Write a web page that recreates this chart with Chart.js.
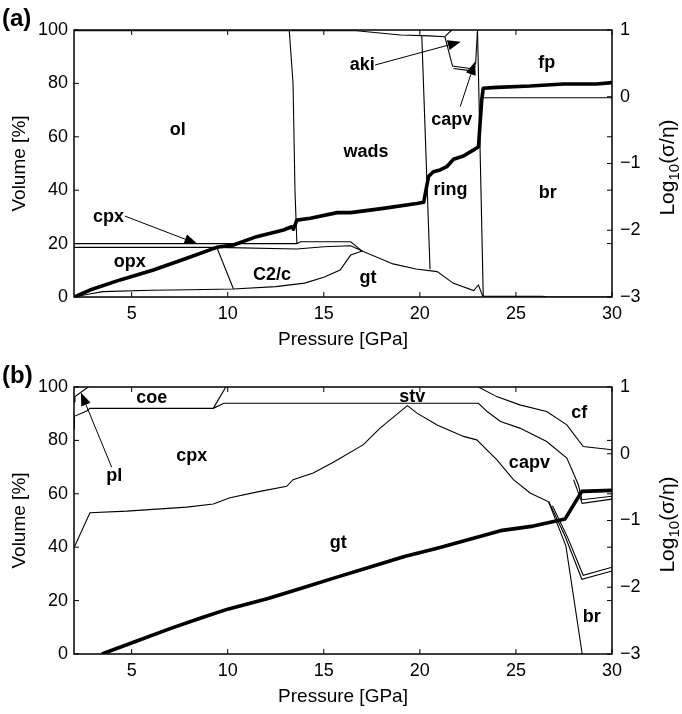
<!DOCTYPE html>
<html>
<head>
<meta charset="utf-8">
<script src="https://cdn.jsdelivr.net/npm/chart.js@4.4.0/dist/chart.umd.min.js"></script>
<style>
html, body { margin: 0; padding: 0; background: #fff; }
.panel { position: absolute; left: 0; width: 682px; height: 357px; }
</style>
</head>
<body>
<div class="panel" style="top:0"><canvas id="chartA" width="682" height="357"></canvas></div>
<div class="panel" style="top:357px"><canvas id="chartB" width="682" height="357"></canvas></div>
<script>
// axes
const xTicks = [5, 10, 15, 20, 25, 30];
const volTicks = [0, 20, 40, 60, 80, 100];
// right axis: integer labels plus marks where the left ticks fall
const logTicks = [-3, -2.2, -2, -1.4, -1, -0.6, 0, 0.2, 1];

// ---- panel (a): phase boundaries, Volume [%] vs Pressure [GPa]
const aGtP = [2, 2.8, 3.5, 6, 8, 10.3, 12.5, 14, 15, 15.85, 16.4, 17, 18.6, 19.8, 20.9, 21.75, 22.8, 23.05, 23.27, 26.4, 26.6, 30];
const aGtV = [0, 1.1, 2.0, 2.5, 2.7, 3.0, 3.9, 5.2, 7.4, 10.1, 15.7, 17.2, 12.4, 10.5, 9.5, 5.1, 2.4, 4.5, 0.3, 0.3, 0, 0];
const aOpxP = [2, 9.43, 10.3];
const aOpxV = [18.6, 18.6, 3.0];
const aC2cP = [9.43, 13.6, 15, 16.4, 17];
const aC2cV = [18.6, 18.0, 18.8, 19.2, 17.2];
const aCpxP = [2, 13.6, 13.8, 16.4, 17];
const aCpxV = [20.0, 20.0, 20.7, 20.7, 17.2];
const aOlP = [13.2, 13.4, 13.5, 13.6];
const aOlV = [100, 80, 40, 20.0];
const aRingP = [20.1, 20.53];
const aRingV = [97.8, 10.4];
const aBrP = [23.0, 23.3];
const aBrV = [100, 0.3];
const aTopP = [2, 16.7, 19, 20.5, 21.3];
const aTopV = [99.7, 99.7, 98.1, 97.8, 97.5];
const aAkiP = [21.66, 21.3, 21.7, 22.6, 22.9, 23.0];
const aAkiV = [100, 97.5, 86.5, 85.6, 87.3, 100];
const aCapvP = [21.75, 22.6, 22.9];
const aCapvV = [85.6, 84.8, 86.5];
const aFpP = [23.3, 30];
const aFpV = [74.6, 74.6];
// log10(sigma/eta), right axis
const aCondP = [2.05, 2.83, 4.4, 6.13, 7.87, 9.43, 10.3, 11.5, 12.9, 13.33, 13.42, 13.6, 14.3, 15.7, 16.4, 18.1, 19.84, 20.2, 20.45, 20.7, 21.05, 21.4, 21.75, 22.27, 22.8, 23.05, 23.22, 23.3, 24.0, 25.74, 27.47, 29.2, 30];
const aCondL = [-2.996, -2.896, -2.744, -2.596, -2.42, -2.256, -2.22, -2.096, -1.996, -1.948, -1.984, -1.848, -1.82, -1.736, -1.736, -1.672, -1.6, -1.58, -1.196, -1.124, -1.096, -1.048, -0.936, -0.888, -0.796, -0.748, -0.048, 0.128, 0.14, 0.16, 0.192, 0.192, 0.212];

const aLabels = [
  ["ol", 7.4, 62.5], ["wads", 17.2, 54.4], ["ring", 21.6, 40], ["br", 26.65, 38.8],
  ["fp", 26.6, 87.5], ["capv", 21.66, 66.3], ["aki", 17.0, 86.9], ["gt", 17.3, 7.0],
  ["cpx", 3.8, 30], ["opx", 4.9, 13.2], ["C2/c", 12.3, 8.2]
];
const aArrows = [
  [4.65, 30.3, 8.42, 19.9], [17.67, 86.9, 22.13, 95.6], [22.1, 71.3, 22.87, 88.1]
];

// ---- panel (b)
const bPlP = [2, 2.05, 2.74];
const bPlV = [94.5, 96.4, 100];
const bCpxTopP = [2, 2.02, 2.66, 2.83, 9.25, 9.8, 23.05, 23.5, 24.2, 25.2, 26.6, 27.65, 28.25, 28.43, 30];
const bCpxTopV = [84.5, 89, 91, 92, 92, 93.9, 93.9, 90.8, 87.1, 84.6, 79.6, 73.4, 63.4, 57.8, 59.1];
const bCapv2P = [28.0, 28.45, 30];
const bCapv2V = [65.3, 56.4, 58.0];
const bCoeP = [9.25, 9.9];
const bCoeV = [92, 100];
const bCfP = [23.05, 24.0, 25.2, 26.6, 27.65, 28.5, 30];
const bCfV = [100, 96.4, 93.3, 90.8, 85.8, 77.7, 76.5];
const bGtP = [2, 2.83, 4.74, 7.87, 9.25, 10.12, 11.68, 13.07, 13.4, 14.45, 15.5, 17.06, 17.93, 19.35, 19.85, 20.9, 22.27, 22.96, 24.0, 24.87, 25.74, 26.7, 27.6, 28.45];
const bGtV = [39.8, 52.9, 53.5, 55.0, 56.2, 58.5, 60.9, 62.8, 65.3, 67.8, 71.8, 78.4, 84.6, 93.0, 90.2, 85.8, 81.5, 80.2, 72.8, 65.3, 60.3, 57.0, 40.5, 0];
const bBrTopP = [26.7, 27.56, 28.43, 30];
const bBrTopV = [57.2, 44.1, 28.0, 31.1];
const bBrTop2P = [26.9, 27.7, 28.5, 30];
const bBrTop2V = [55.5, 43.5, 29.5, 32.5];
const bCondP = [3.45, 5.2, 7.0, 8.6, 10, 12.1, 14, 15.6, 17.5, 19.2, 21, 22.6, 24.2, 25.9, 27.56, 28.43, 30];
const bCondL = [-3, -2.812, -2.62, -2.46, -2.328, -2.168, -2.0, -1.856, -1.688, -1.54, -1.408, -1.28, -1.152, -1.084, -0.976, -0.564, -0.548];

const bLabels = [
  ["coe", 6.05, 95.8], ["cpx", 8.13, 74], ["pl", 4.1, 66.5], ["stv", 19.6, 96.4],
  ["cf", 28.3, 90.2], ["capv", 25.7, 71.5], ["gt", 15.75, 41.7], ["br", 28.95, 13.7]
];
const bArrows = [[3.96, 70.0, 2.36, 97.9]];

const FONT = "'Liberation Sans', Arial, sans-serif";

function pts(xs, ys) {
    return xs.map((x, i) => ({ x: x, y: ys[i] }));
}

function thin(xs, ys) {
    return { data: pts(xs, ys), yAxisID: "y", borderColor: "#000", borderWidth: 1.1, pointRadius: 0, tension: 0 };
}

function thick(xs, ys) {
    return { data: pts(xs, ys), yAxisID: "y1", borderColor: "#000", borderWidth: 3.6, pointRadius: 0, tension: 0, borderJoinStyle: "round" };
}

const overlay = {
    id: "overlay",
    afterDraw(chart, args, opts) {
        const { ctx, chartArea: a, scales } = chart;
        const sx = scales.x, sy = scales.y, sr = scales.y1;
        ctx.save();
        // box and inward tick marks
        ctx.strokeStyle = "#000";
        ctx.lineWidth = 1.5;
        ctx.strokeRect(a.left, a.top, a.right - a.left, a.bottom - a.top);
        ctx.lineWidth = 1;
        ctx.beginPath();
        const t = 5;
        sx.ticks.forEach(tk => {
            const px = sx.getPixelForValue(tk.value);
            ctx.moveTo(px, a.bottom); ctx.lineTo(px, a.bottom - t);
            ctx.moveTo(px, a.top); ctx.lineTo(px, a.top + t);
        });
        sy.ticks.forEach(tk => {
            const py = sy.getPixelForValue(tk.value);
            ctx.moveTo(a.left, py); ctx.lineTo(a.left + t, py);
        });
        sr.ticks.forEach(tk => {
            const py = sr.getPixelForValue(tk.value);
            ctx.moveTo(a.right, py); ctx.lineTo(a.right - t, py);
        });
        ctx.stroke();

        // right axis title with subscript
        ctx.fillStyle = "#000";
        ctx.translate(a.right + 55, (a.top + a.bottom) / 2 + 4);
        ctx.rotate(-Math.PI / 2);
        ctx.textBaseline = "alphabetic";
        ctx.textAlign = "left";
        ctx.font = "21px " + FONT;
        const w1 = ctx.measureText("Log").width;
        const w3 = ctx.measureText("(\u03c3/\u03b7)").width;
        ctx.font = "15px " + FONT;
        const w2 = ctx.measureText("10").width;
        let x0 = -(w1 + w2 + w3) / 2;
        ctx.font = "21px " + FONT;
        ctx.fillText("Log", x0, 7);
        ctx.font = "15px " + FONT;
        ctx.fillText("10", x0 + w1, 12);
        ctx.font = "21px " + FONT;
        ctx.fillText("(\u03c3/\u03b7)", x0 + w1 + w2, 7);
        ctx.restore();

        ctx.save();
        // panel tag
        ctx.fillStyle = "#000";
        ctx.font = "bold 24px " + FONT;
        ctx.textAlign = "left";
        ctx.textBaseline = "middle";
        ctx.fillText(opts.tag, 2, 19);

        // phase names
        ctx.font = "bold 18px " + FONT;
        ctx.textAlign = "center";
        opts.labels.forEach(([txt, px, v]) => {
            ctx.fillText(txt, sx.getPixelForValue(px), sy.getPixelForValue(v));
        });

        // arrows
        ctx.lineWidth = 1;
        opts.arrows.forEach(([p0, v0, p1, v1]) => {
            const x0 = sx.getPixelForValue(p0), y0 = sy.getPixelForValue(v0);
            const x1 = sx.getPixelForValue(p1), y1 = sy.getPixelForValue(v1);
            const ang = Math.atan2(y1 - y0, x1 - x0);
            const len = 13, half = 5;
            const bx = x1 - len * Math.cos(ang), by = y1 - len * Math.sin(ang);
            ctx.beginPath();
            ctx.moveTo(x0, y0);
            ctx.lineTo(bx, by);
            ctx.stroke();
            ctx.beginPath();
            ctx.moveTo(x1, y1);
            ctx.lineTo(bx - half * Math.sin(ang), by + half * Math.cos(ang));
            ctx.lineTo(bx + half * Math.sin(ang), by - half * Math.cos(ang));
            ctx.closePath();
            ctx.fill();
        });
        ctx.restore();
    }
};

function makeChart(id, tag, datasets, labels, arrows) {
    const tickFont = { family: FONT, size: 18 };
    return new Chart(document.getElementById(id), {
        type: "line",
        data: { datasets: datasets },
        options: {
            responsive: false,
            animation: false,
            events: [],
            layout: { padding: { top: 30, left: 0, right: 0, bottom: 0 } },
            plugins: {
                legend: { display: false },
                tooltip: { enabled: false },
                overlay: { tag: tag, labels: labels, arrows: arrows }
            },
            scales: {
                x: {
                    type: "linear",
                    min: 2,
                    max: 30,
                    afterBuildTicks: s => { s.ticks = xTicks.map(v => ({ value: v })); },
                    afterFit: s => { s.height = 60; },
                    grid: { display: false, drawTicks: false },
                    border: { display: false },
                    ticks: { color: "#000", font: tickFont, padding: 6, maxRotation: 0 },
                    title: { display: true, text: "Pressure [GPa]", color: "#000", font: { family: FONT, size: 19 }, padding: { top: 0, bottom: 6 } }
                },
                y: {
                    type: "linear",
                    position: "left",
                    min: 0,
                    max: 100,
                    afterBuildTicks: s => { s.ticks = volTicks.map(v => ({ value: v })); },
                    afterFit: s => { s.width = 74; },
                    grid: { display: false, drawTicks: false },
                    border: { display: false },
                    ticks: { color: "#000", font: tickFont, padding: 6 },
                    title: { display: true, text: "Volume [%]", color: "#000", font: { family: FONT, size: 19 }, padding: { top: 8, bottom: 0 } }
                },
                y1: {
                    type: "linear",
                    position: "right",
                    min: -3,
                    max: 1,
                    afterBuildTicks: s => { s.ticks = logTicks.map(v => ({ value: v })); },
                    afterFit: s => { s.width = 70; },
                    grid: { display: false, drawTicks: false },
                    border: { display: false },
                    ticks: {
                        color: "#000",
                        font: tickFont,
                        padding: 8,
                        autoSkip: false,
                        callback: v => Number.isInteger(v) ? String(v).replace("-", "\u2212") : ""
                    }
                }
            }
        },
        plugins: [overlay]
    });
}

makeChart("chartA", "(a)", [
    thin(aGtP, aGtV), thin(aOpxP, aOpxV), thin(aC2cP, aC2cV), thin(aCpxP, aCpxV),
    thin(aOlP, aOlV), thin(aRingP, aRingV), thin(aBrP, aBrV), thin(aTopP, aTopV),
    thin(aAkiP, aAkiV), thin(aCapvP, aCapvV), thin(aFpP, aFpV),
    thick(aCondP, aCondL)
], aLabels, aArrows);

makeChart("chartB", "(b)", [
    thin(bPlP, bPlV), thin(bCpxTopP, bCpxTopV), thin(bCapv2P, bCapv2V), thin(bCoeP, bCoeV),
    thin(bCfP, bCfV), thin(bGtP, bGtV), thin(bBrTopP, bBrTopV), thin(bBrTop2P, bBrTop2V),
    thick(bCondP, bCondL)
], bLabels, bArrows);
</script>
</body>
</html>
